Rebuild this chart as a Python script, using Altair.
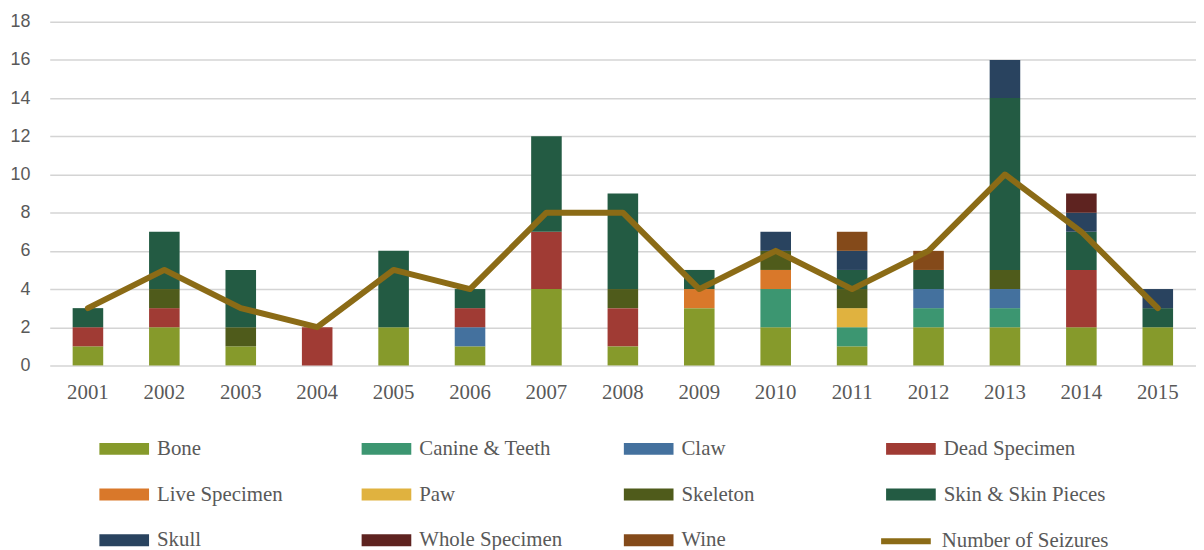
import altair as alt
import pandas as pd

years = [str(y) for y in range(2001, 2016)]
categories = ["Bone", "Canine & Teeth", "Claw", "Dead Specimen", "Live Specimen", "Paw",
              "Skeleton", "Skin & Skin Pieces", "Skull", "Whole Specimen", "Wine"]
bone      = [1, 2, 1, 0, 2, 1, 4, 1, 3, 2, 1, 2, 2, 2, 2]
canine    = [0, 0, 0, 0, 0, 0, 0, 0, 0, 2, 1, 1, 1, 0, 0]
claw      = [0, 0, 0, 0, 0, 1, 0, 0, 0, 0, 0, 1, 1, 0, 0]
dead      = [1, 1, 0, 2, 0, 1, 3, 2, 0, 0, 0, 0, 0, 3, 0]
live      = [0, 0, 0, 0, 0, 0, 0, 0, 1, 1, 0, 0, 0, 0, 0]
paw       = [0, 0, 0, 0, 0, 0, 0, 0, 0, 0, 1, 0, 0, 0, 0]
skeleton  = [0, 1, 1, 0, 0, 0, 0, 1, 0, 1, 1, 0, 1, 0, 0]
skin      = [1, 3, 3, 0, 4, 1, 5, 5, 1, 0, 1, 1, 9, 2, 1]
skull     = [0, 0, 0, 0, 0, 0, 0, 0, 0, 1, 1, 0, 2, 1, 1]
whole     = [0, 0, 0, 0, 0, 0, 0, 0, 0, 0, 0, 0, 0, 1, 0]
wine      = [0, 0, 0, 0, 0, 0, 0, 0, 0, 0, 1, 1, 0, 0, 0]
seizures  = [3, 5, 3, 2, 5, 4, 8, 8, 4, 6, 4, 6, 10, 7, 3]
y_ticks   = [0, 2, 4, 6, 8, 10, 12, 14, 16, 18]

colors = ["#869a2b", "#3c9671", "#44719e", "#a03b34", "#d9782a", "#e0b23f",
          "#4f5b1b", "#235b43", "#29435f", "#5e2320", "#844a1a"]
line_color = "#8b6b16"

series = [bone, canine, claw, dead, live, paw, skeleton, skin, skull, whole, wine]
rows = []
for ci, (cat, vals) in enumerate(zip(categories, series)):
    for y, v in zip(years, vals):
        if v > 0:
            rows.append({"Year": y, "Type": cat, "Count": v, "idx": ci})
bars_df = pd.DataFrame(rows)
line_df = pd.DataFrame({"Year": years, "Seizures": seizures,
                        "series": ["Number of Seizures"] * len(years)})

serif = "Liberation Serif"
sans = "Liberation Sans"
grey = "#595959"

xscale = alt.Scale(domain=years, paddingInner=0.6, paddingOuter=0.3)
xaxis = alt.Axis(title=None, labelAngle=0, labelFont=serif, labelFontSize=21,
                 labelColor=grey, ticks=False, domain=False, labelPadding=16,
                 grid=False)
yscale = alt.Scale(domain=[0, 18], nice=False)
yaxis = alt.Axis(title=None, values=y_ticks, labelFont=sans,
                 labelFontSize=18, labelColor=grey, ticks=False, domain=False,
                 labelPadding=20, gridColor="#d4d4d4", gridWidth=1.5,
                 labelOverlap=False)

rect_path = "M-1,-0.24H1V0.24H-1Z"

bars = alt.Chart(bars_df).mark_bar().encode(
    x=alt.X("Year:N", scale=xscale, sort=years, axis=xaxis),
    y=alt.Y("sum(Count):Q", scale=yscale, axis=yaxis, stack="zero"),
    color=alt.Color("Type:N", scale=alt.Scale(domain=categories, range=colors),
                    legend=alt.Legend(title=None, orient="none", legendX=50, legendY=405,
                                      direction="horizontal",
                                      columns=4, gridAlign="all", symbolType=rect_path,
                                      symbolSize=2500, symbolStrokeWidth=0,
                                      labelFont=serif, labelFontSize=21, labelColor=grey,
                                      labelOffset=8, columnPadding=43, rowPadding=11,
                                      padding=0, labelLimit=400)),
    order=alt.Order("idx:Q", sort="ascending"),
)

line = alt.Chart(line_df).mark_line(strokeWidth=6, strokeCap="round", strokeJoin="round").encode(
    x=alt.X("Year:N", scale=xscale, sort=years, axis=xaxis),
    y=alt.Y("Seizures:Q", scale=yscale, axis=yaxis),
    stroke=alt.Stroke("series:N", scale=alt.Scale(domain=["Number of Seizures"], range=[line_color]),
                      legend=alt.Legend(title=None, orient="none", legendX=834, legendY=495,
                                        symbolType="stroke", symbolSize=2500,
                                        symbolStrokeWidth=6, labelFont=serif,
                                        labelFontSize=21, labelColor=grey, labelOffset=8,
                                        padding=0, labelLimit=400)),
)

chart = alt.layer(bars, line).properties(
    width=1154, height=346,
    autosize=alt.AutoSizeParams(type="none"),
    padding={"left": 42, "top": 12, "right": 0, "bottom": 184},
).configure_view(stroke=None)

chart.save("out.html", embed_options={"renderer": "svg", "actions": False})
